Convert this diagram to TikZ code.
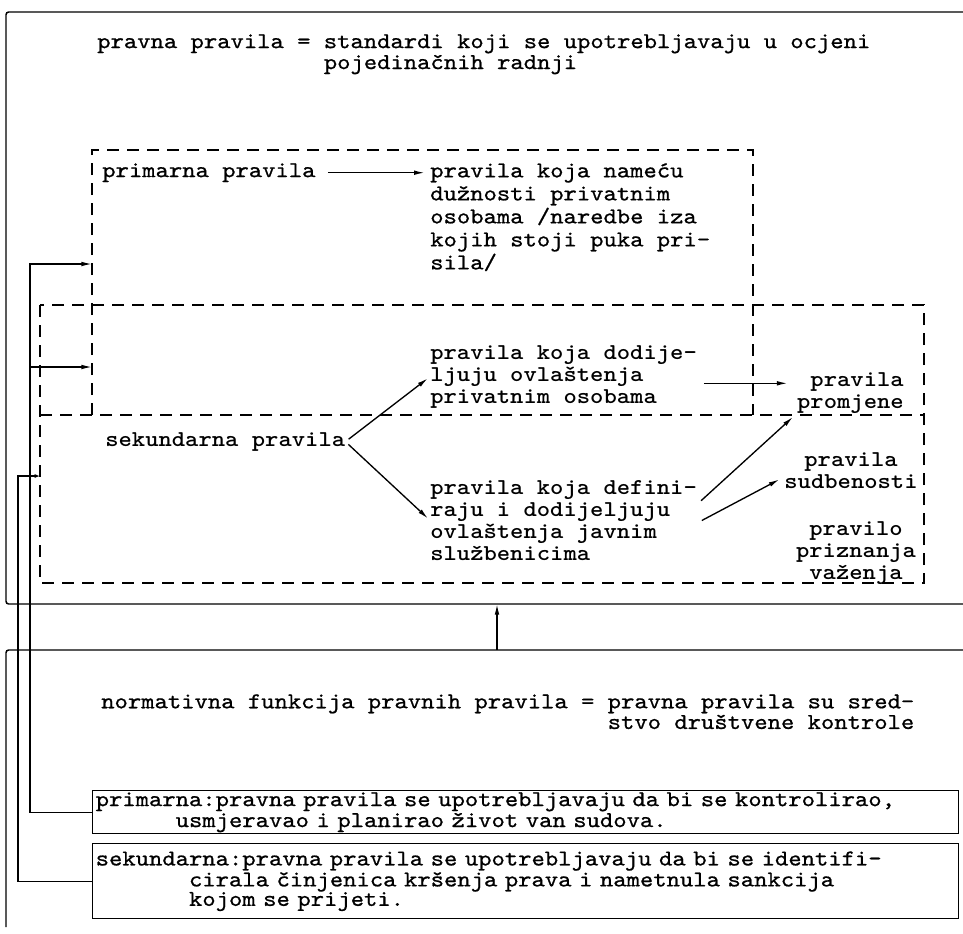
\documentclass[tikz,border=0pt]{standalone}
\usepackage{fontspec}
\newfontfamily\plaintt{lmmono10-regular}[Extension=.otf, FakeStretch=1.12, FakeBold=0.8]
\newfontfamily\darktt{lmmonolt10-bold}[Extension=.otf, FakeStretch=1.12]
\usetikzlibrary{arrows.meta}

\begin{document}
\begin{tikzpicture}
[x = 0.75pt, y = -0.75pt,
frame/.style = {line width=1.1pt},
dashbox/.style = {line width=0.9pt, dash pattern=on 9pt off 6pt},
arr/.style = {line width=1pt, -{Latex[length=8pt,width=3.5pt]}},
typed/.style = {font=\plaintt\fontsize{17}{#1}\selectfont, inner sep=0pt, align=left, anchor=north west},
typed/.default = 14.6pt,
heavy/.style = {font=\darktt\fontsize{17}{#1}\selectfont, inner sep=0pt, align=left, anchor=north west},
heavy/.default = 16.5pt,
fnbox/.style = {typed, draw, line width=1.1pt, inner xsep=2.25pt, text width=645pt, minimum height=#1}]
\useasboundingbox (0,0) rectangle (963,933);

\draw[frame, rounded corners=2pt] (963,12) -- (6,12) -- (6,604) -- (963,604);
\draw[frame, rounded corners=2pt] (6,927) -- (6,650) -- (963,650);
\coordinate (topedge) at (497,604);
\coordinate (botedge) at (497,650);
\draw[arr] (botedge) -- (topedge);

\draw[dashbox] (92,415) -- (92,150) -- (753,150) -- (753,415);
\draw[dashbox] (40,305) rectangle (924,583);
\draw[dashbox] (40,415) -- (924,415);

\node[typed=13.8pt] (defn) at (97,34) {pravna pravila = standardi koji se upotrebljavaju u ocjeni\\\phantom{pravna pravila = }pojedinačnih radnji};

\node[typed=17.25pt] (primrule) at (102,163) {primarna pravila};
\node[typed=17.25pt] (duties) at (430,163) {pravila koja nameću\\dužnosti privatnim\\osobama /naredbe iza\\kojih stoji puka pri-\\sila/};
\draw[arr, shorten <=9pt, shorten >=4pt] (primrule.east) -- (primrule.east -| duties.west);

\node[heavy] (sekrule) at (105,432) {sekundarna pravila};
\node[heavy] (privbl) at (430,345) {pravila koja dodije-\\ljuju ovlaštenja\\privatnim osobama};
\node[heavy] (publ) at (430,480) {pravila koja defini-\\raju i dodijeljuju\\ovlaštenja javnim\\službenicima};
\node[heavy, align=right, anchor=north east] (change) at (904,372) {pravila\\promjene};
\node[heavy, align=center, anchor=north] (adjud) at (851,452) {pravila\\sudbenosti};
\node[heavy, align=center, anchor=north] (recog) at (856,521) {pravilo\\priznanja\\važenja};

\draw[arr, shorten <=3pt, shorten >=2pt] (sekrule.east) -- (privbl.west);
\draw[arr, shorten <=3pt, shorten >=2pt] (sekrule.east) -- (publ.west);
\draw[arr, shorten <=5pt, shorten >=7pt] ([yshift=-5pt]privbl.east) -- ([yshift=-5pt]privbl.east -| change.west);
\draw[arr, shorten <=4pt, shorten >=4pt] ([yshift=12pt]publ.east) -- (change.south west);
\draw[arr, shorten <=4pt, shorten >=4pt] ([yshift=-2pt]publ.east) -- ([yshift=-5pt]adjud.west);

\node[typed=15.5pt] (normfn) at (101,694) {normativna funkcija pravnih pravila = pravna pravila su sred-\\\phantom{normativna funkcija pravnih pravila = }stvo društvene kontrole};
\node[fnbox=32.25pt] (primfn) at (92,790) {primarna:pravna pravila se upotrebljavaju da bi se kontrolirao,\\\phantom{primar}usmjeravao i planirao život van sudova.};
\node[fnbox=56.25pt] (sekfn) at (92,843) {sekundarna:pravna pravila se upotrebljavaju da bi se identifi-\\\phantom{sekunda}cirala činjenica kršenja prava i nametnula sankcija\\\phantom{sekunda}kojom se prijeti.};

\coordinate (primin) at (92,264);
\coordinate (ovlin) at (92,367);
\coordinate (sekin) at (40,476);
\coordinate (primtrunk) at (30,0);
\coordinate (sektrunk) at (18,0);
\draw[arr] (primfn.west) -- (primtrunk |- primfn.west) -- (primtrunk |- primin) -- (primin);
\draw[arr] (primtrunk |- ovlin) -- (ovlin);
\draw[line width=1pt, -{Latex[length=4pt,width=3pt]}] (sekfn.west) -- (sektrunk |- sekfn.west) -- (sektrunk |- sekin) -- (sekin);
\end{tikzpicture}
\end{document}
